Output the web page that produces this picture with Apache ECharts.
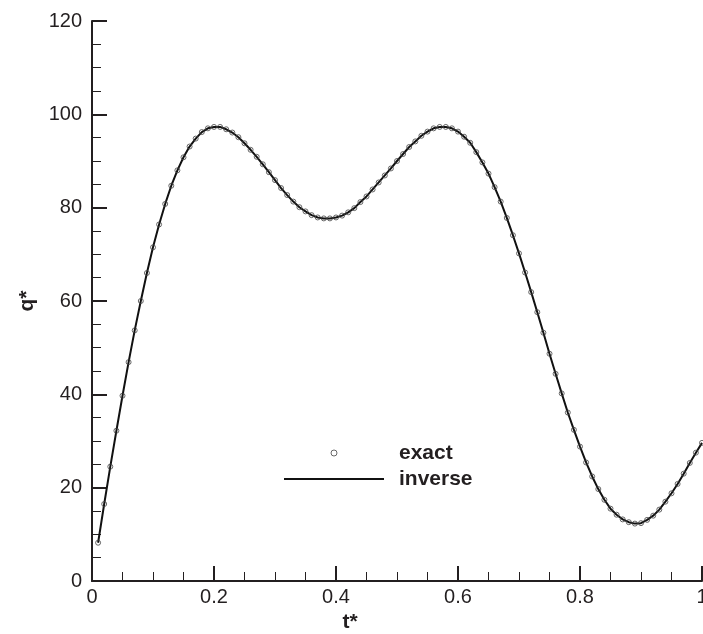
<!DOCTYPE html>
<html>
<head>
<meta charset="utf-8">
<script src="https://cdn.jsdelivr.net/npm/echarts@6/dist/echarts.min.js"></script>
<style>
html,body{margin:0;padding:0;background:#fff;}
#chart{width:703px;height:634px;}
</style>
</head>
<body>
<div id="chart"></div>
<script>
var tValues = [0.01,0.02,0.03,0.04,0.05,0.06,0.07,0.08,0.09,0.10,
  0.11,0.12,0.13,0.14,0.15,0.16,0.17,0.18,0.19,0.20,
  0.21,0.22,0.23,0.24,0.25,0.26,0.27,0.28,0.29,0.30,
  0.31,0.32,0.33,0.34,0.35,0.36,0.37,0.38,0.39,0.40,
  0.41,0.42,0.43,0.44,0.45,0.46,0.47,0.48,0.49,0.50,
  0.51,0.52,0.53,0.54,0.55,0.56,0.57,0.58,0.59,0.60,
  0.61,0.62,0.63,0.64,0.65,0.66,0.67,0.68,0.69,0.70,
  0.71,0.72,0.73,0.74,0.75,0.76,0.77,0.78,0.79,0.80,
  0.81,0.82,0.83,0.84,0.85,0.86,0.87,0.88,0.89,0.90,
  0.91,0.92,0.93,0.94,0.95,0.96,0.97,0.98,0.99,1.00];

var qExact = [8.2,16.5,24.5,32.2,39.7,46.9,53.7,60.0,66.0,71.5,
  76.4,80.8,84.7,88.0,90.8,93.1,94.8,96.2,97.0,97.3,
  97.3,96.8,96.1,95.1,93.8,92.4,90.9,89.3,87.6,85.9,
  84.2,82.7,81.3,80.1,79.2,78.4,77.9,77.7,77.7,77.9,
  78.3,79.0,79.9,81.2,82.4,83.9,85.4,86.9,88.4,90.0,
  91.5,93.0,94.2,95.4,96.3,97.0,97.3,97.3,97.0,96.3,
  95.2,93.9,91.9,89.7,87.3,84.4,81.3,77.8,74.1,70.2,
  66.1,61.9,57.6,53.2,48.7,44.4,40.2,36.1,32.4,28.8,
  25.4,22.4,19.7,17.4,15.5,14.2,13.2,12.6,12.3,12.4,
  13.1,14.0,15.3,17.0,18.8,20.8,23.0,25.3,27.5,29.6];

var qInverse = qExact.slice();

var seriesNames = ['exact', 'inverse'];
var xTitle = 't*';
var yTitle = 'q*';

function pairs(xs, ys) {
  var out = [];
  for (var i = 0; i < xs.length; i++) out.push([xs[i], ys[i]]);
  return out;
}

var FONT = '"Liberation Sans", Arial, Helvetica, sans-serif';
var INK = '#231f20';

var chart = echarts.init(document.getElementById('chart'), null, {renderer: 'canvas'});
chart.setOption({
  backgroundColor: '#ffffff',
  animation: false,
  grid: {left: 92, right: 1, top: 21, bottom: 53, containLabel: false, outerBoundsMode: 'none'},
  legend: {
    orient: 'vertical',
    left: 279,
    top: 437,
    itemWidth: 100,
    itemHeight: 6,
    itemGap: 4,
    symbolKeepAspect: true,
    textStyle: {fontFamily: FONT, fontSize: 21, fontWeight: 'bold', color: INK, lineHeight: 22, padding: [0, 0, 0, 10]},
    data: [
      {name: seriesNames[0], icon: 'circle', itemStyle: {color: 'rgba(255,255,255,0)', borderColor: '#444', borderWidth: 1}},
      {name: seriesNames[1], icon: 'path://M0,0L100,0L100,2L0,2Z', itemStyle: {color: '#111', borderWidth: 0}}
    ]
  },
  xAxis: {
    type: 'value',
    min: 0, max: 1, interval: 0.2,
    name: xTitle,
    nameLocation: 'middle',
    nameGap: 28,
    nameTextStyle: {fontFamily: FONT, fontSize: 21, fontWeight: 'bold', color: INK, padding: [0, 94, 0, 0]},
    axisLine: {show: true, onZero: false, lineStyle: {color: INK, width: 2}},
    axisTick: {show: true, inside: true, length: 15, lineStyle: {color: INK, width: 2}},
    minorTick: {show: true, splitNumber: 4, length: 9, lineStyle: {color: INK, width: 1}},
    axisLabel: {fontFamily: FONT, fontSize: 20, color: INK, margin: 6, showMinLabel: true, showMaxLabel: true},
    splitLine: {show: false},
    minorSplitLine: {show: false}
  },
  yAxis: {
    type: 'value',
    min: 0, max: 120, interval: 20,
    name: yTitle,
    nameLocation: 'middle',
    nameGap: 49,
    nameRotate: 90,
    nameTextStyle: {fontFamily: FONT, fontSize: 21, fontWeight: 'bold', color: INK},
    axisLine: {show: true, onZero: false, lineStyle: {color: INK, width: 2}},
    axisTick: {show: true, inside: true, length: 15, lineStyle: {color: INK, width: 2}},
    minorTick: {show: true, splitNumber: 4, length: 9, lineStyle: {color: INK, width: 1}},
    axisLabel: {fontFamily: FONT, fontSize: 20, color: INK, margin: 10},
    splitLine: {show: false},
    minorSplitLine: {show: false}
  },
  series: [
    {
      name: seriesNames[0],
      type: 'scatter',
      data: pairs(tValues, qExact),
      symbol: 'circle',
      symbolSize: 5,
      itemStyle: {color: 'rgba(255,255,255,0)', borderColor: '#444', borderWidth: 1},
      z: 3
    },
    {
      name: seriesNames[1],
      type: 'line',
      data: pairs(tValues, qInverse),
      showSymbol: false,
      symbol: 'none',
      lineStyle: {color: '#111', width: 2},
      itemStyle: {color: '#111'},
      z: 2
    }
  ]
});
</script>
</body>
</html>
